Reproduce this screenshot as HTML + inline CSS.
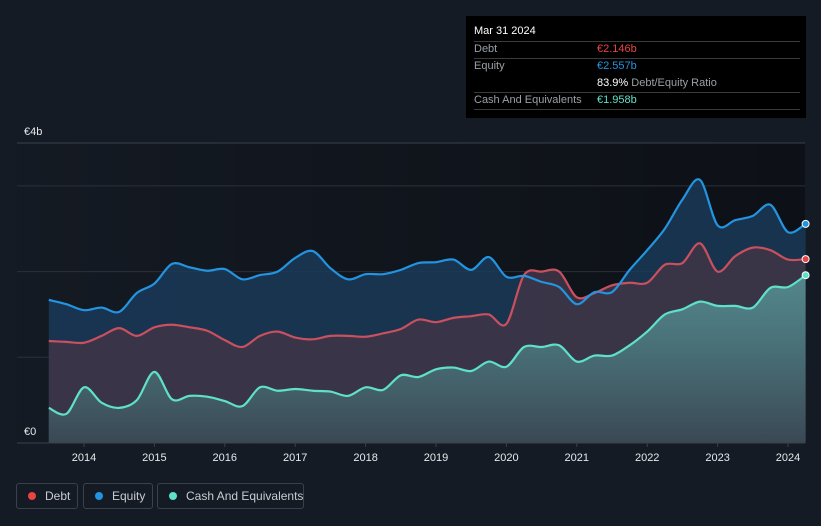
<!DOCTYPE html>
<html><head><meta charset="utf-8"><style>
body{margin:0;background:#151b25;font-family:"Liberation Sans",sans-serif;}
#wrap{position:relative;width:821px;height:526px;overflow:hidden;background:#151b25;}
svg{position:absolute;left:0;top:0;}
.tt{position:absolute;left:466px;top:16px;width:340px;height:102px;background:#000;color:#fff;font-size:11px;}
.tt div{position:absolute;white-space:nowrap;}
.ln{left:8px;width:326px;height:1px;background:#3a3a3a;}
.lg{position:absolute;top:483px;height:26px;border:1px solid #3b414b;border-radius:3px;color:#c9ccd1;font-size:12px;box-sizing:border-box;line-height:24px;padding-left:28px;white-space:nowrap;}
.lg span{position:absolute;left:11px;top:8px;width:8px;height:8px;border-radius:50%;}
</style></head><body>
<div id="wrap">
<svg id="chart" width="821" height="526"></svg>
<div class="tt">
<div style="left:8px;top:9px;font-size:11px">Mar 31 2024</div>
<div class="ln" style="top:25px"></div>
<div style="left:8px;top:27px;color:#9aa0a6">Debt</div>
<div style="left:131px;top:27px;color:#e84444">€2.146b</div>
<div class="ln" style="top:42px"></div>
<div style="left:8px;top:44px;color:#9aa0a6">Equity</div>
<div style="left:131px;top:44px;color:#2394e0">€2.557b</div>
<div style="left:131px;top:61px;color:#9aa0a6"><b style="color:#fff;font-weight:normal">83.9%</b> Debt/Equity Ratio</div>
<div class="ln" style="top:76px"></div>
<div style="left:8px;top:78px;color:#9aa0a6">Cash And Equivalents</div>
<div style="left:131px;top:78px;color:#5ee0c9">€1.958b</div>
<div class="ln" style="top:93px"></div>
</div>
<div class="lg" style="left:16px;width:62px"><span style="background:#e84444"></span>Debt</div>
<div class="lg" style="left:83px;width:70px"><span style="background:#2394e0"></span>Equity</div>
<div class="lg" style="left:157px;width:147px"><span style="background:#5ee0c9"></span>Cash And Equivalents</div>
</div>
<script>
const startYear = 2013.5;
const equity = [1.67,1.62,1.55,1.58,1.53,1.75,1.86,2.09,2.05,2.01,2.03,1.91,1.96,2.0,2.16,2.24,2.04,1.91,1.97,1.97,2.02,2.1,2.11,2.14,2.02,2.17,1.94,1.95,1.88,1.82,1.62,1.76,1.76,2.02,2.25,2.5,2.84,3.07,2.54,2.6,2.65,2.78,2.46,2.557];
const debt = [1.19,1.18,1.17,1.25,1.34,1.25,1.35,1.38,1.35,1.31,1.2,1.12,1.25,1.3,1.23,1.21,1.25,1.25,1.24,1.28,1.33,1.44,1.41,1.46,1.48,1.5,1.39,1.96,2.0,2.0,1.7,1.75,1.84,1.87,1.87,2.08,2.1,2.33,2.0,2.18,2.28,2.25,2.14,2.146];
const cash = [0.41,0.34,0.65,0.47,0.41,0.5,0.83,0.51,0.55,0.54,0.49,0.43,0.65,0.61,0.63,0.61,0.6,0.55,0.65,0.62,0.79,0.77,0.86,0.88,0.84,0.95,0.89,1.12,1.12,1.14,0.95,1.02,1.02,1.14,1.3,1.5,1.56,1.65,1.6,1.6,1.58,1.81,1.82,1.958];
const yearTicks = [2014,2015,2016,2017,2018,2019,2020,2021,2022,2023,2024];
const gridVals = [0,1,2,3];

const NS="http://www.w3.org/2000/svg";
const svg=document.getElementById('chart');
const X=t=>84+(t-2014)*70.4;
const Y=v=>443-v*85.7;
function el(tag,a,parent){const e=document.createElementNS(NS,tag);for(const k in a)e.setAttribute(k,a[k]);(parent||svg).appendChild(e);return e;}
function pts(arr){return arr.map((v,i)=>[X(startYear+i*0.25),Y(v)]);}
function path(p){let d=`M${p[0][0]},${p[0][1]}`;for(let i=0;i<p.length-1;i++){const p0=p[Math.max(0,i-1)],p1=p[i],p2=p[i+1],p3=p[Math.min(p.length-1,i+2)];const t=0.16;d+=` C${p1[0]+(p2[0]-p0[0])*t},${p1[1]+(p2[1]-p0[1])*t} ${p2[0]-(p3[0]-p1[0])*t},${p2[1]-(p3[1]-p1[1])*t} ${p2[0]},${p2[1]}`;}return d;}
const defs=el('defs',{});
defs.innerHTML=`<linearGradient id="bg" x1="0" x2="1"><stop offset="0" stop-color="#141a23"/><stop offset="1" stop-color="#0d1016"/></linearGradient>
<linearGradient id="cg" x1="0" y1="0" x2="0" y2="1"><stop offset="0" stop-color="#5aa3a3" stop-opacity="0.75"/><stop offset="1" stop-color="#3a4a55" stop-opacity="0.9"/></linearGradient>`;
const bgr=el('rect',{x:17,y:143,width:788,height:300,fill:'url(#bg)'});


gridVals.forEach(v=>{const g=el('line',{x1:17,x2:805,y1:Y(v),y2:Y(v),stroke:'#2a303a','stroke-width':1});

});
el('line',{x1:17,x2:805,y1:143,y2:143,stroke:'#3b414b'});
const pe=pts(equity),pd=pts(debt),pc=pts(cash);
const x0=pe[0][0],x1=pe[pe.length-1][0];
const ea=el('path',{d:path(pe)+` L${x1},443 L${x0},443 Z`,fill:'#1a3a58','fill-opacity':0.85});


const da=el('path',{d:path(pd)+` L${x1},443 L${x0},443 Z`,fill:'#3e3447','fill-opacity':0.9});


const ca=el('path',{d:path(pc)+` L${x1},443 L${x0},443 Z`,fill:'url(#cg)'});


const dl=el('path',{d:path(pd),fill:'none',stroke:'#c9505f','stroke-width':2.2});


const elx=el('path',{d:path(pe),fill:'none',stroke:'#2394e0','stroke-width':2.2});


const cl=el('path',{d:path(pc),fill:'none',stroke:'#5ee0c9','stroke-width':2.2});


[[pe,'#2394e0','equity-end-point'],[pd,'#e84444','debt-end-point'],[pc,'#5ee0c9','cash-end-point']].forEach(([p,c,n])=>{const q=p[p.length-1];const d=el('circle',{cx:q[0],cy:q[1],r:3.5,fill:c,stroke:'#fff','stroke-width':1});

});
el('line',{x1:17,x2:805,y1:443,y2:443,stroke:'#3b414b'});
yearTicks.forEach(t=>{el('line',{x1:X(t),x2:X(t),y1:443,y2:447,stroke:'#3b414b'});const tx=el('text',{x:X(t),y:461,fill:'#e6e8ea','font-size':11,'text-anchor':'middle','font-family':'Liberation Sans, sans-serif'});tx.textContent=t;

});
const l4=el('text',{x:24,y:135,fill:'#e6e8ea','font-size':11,'font-family':'Liberation Sans, sans-serif'});l4.textContent='€4b';


const l0=el('text',{x:24,y:435,fill:'#e6e8ea','font-size':11,'font-family':'Liberation Sans, sans-serif'});l0.textContent='€0';


</script>
</body></html>
